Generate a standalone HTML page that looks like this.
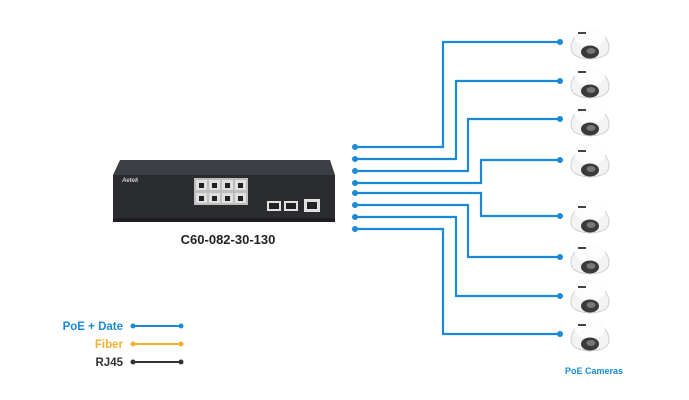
<!DOCTYPE html>
<html><head><meta charset="utf-8"><style>
html,body{margin:0;padding:0;background:#fff;}
svg{display:block;}
</style></head><body>
<svg width="689" height="400" viewBox="0 0 689 400" xmlns="http://www.w3.org/2000/svg" font-family="Liberation Sans, sans-serif">
<defs>
<g id="cam">
<path d="M-19,8 A19,18 0 0 1 19,8 Q19,18 0,19 Q-19,18 -19,8 Z" fill="#f3f3f3" stroke="#cfcfcf" stroke-width="1"/>
<ellipse cx="0" cy="-3" rx="15" ry="10" fill="#fdfdfd"/>
<rect x="-12" y="-8" width="8" height="2" fill="#444"/>
<ellipse cx="0" cy="12" rx="9" ry="6.5" fill="#3a3a3a"/>
<ellipse cx="1" cy="11" rx="4.5" ry="3" fill="#777"/>
</g>
</defs>
<g stroke="#1a8ad8" stroke-width="2.2" fill="none">
<polyline points="355,147 443,147 443,42 560,42"/>
<polyline points="355,159 456,159 456,81 560,81"/>
<polyline points="355,171 468,171 468,119 560,119"/>
<polyline points="355,183 481,183 481,160 560,160"/>
<polyline points="355,193 481,193 481,216 560,216"/>
<polyline points="355,205 468,205 468,257 560,257"/>
<polyline points="355,217 456,217 456,296 560,296"/>
<polyline points="355,229 443,229 443,334 560,334"/>
</g>
<g fill="#1a8ad8">
<circle cx="355" cy="147" r="3"/><circle cx="355" cy="159" r="3"/><circle cx="355" cy="171" r="3"/><circle cx="355" cy="183" r="3"/>
<circle cx="355" cy="193" r="3"/><circle cx="355" cy="205" r="3"/><circle cx="355" cy="217" r="3"/><circle cx="355" cy="229" r="3"/>
<circle cx="560" cy="42" r="3"/><circle cx="560" cy="81" r="3"/><circle cx="560" cy="119" r="3"/><circle cx="560" cy="160" r="3"/>
<circle cx="560" cy="216" r="3"/><circle cx="560" cy="257" r="3"/><circle cx="560" cy="296" r="3"/><circle cx="560" cy="334" r="3"/>
</g>
<use href="#cam" x="590" y="40"/>
<use href="#cam" x="590" y="79"/>
<use href="#cam" x="590" y="117"/>
<use href="#cam" x="590" y="158"/>
<use href="#cam" x="590" y="214"/>
<use href="#cam" x="590" y="255"/>
<use href="#cam" x="590" y="294"/>
<use href="#cam" x="590" y="332"/>
<text x="594" y="374" font-size="9" font-weight="bold" fill="#1a8ad8" text-anchor="middle">PoE Cameras</text>
<!-- switch -->
<polygon points="120,160 330,160 335,175 113,175" fill="#3c3f44"/>
<rect x="113" y="175" width="222" height="45" fill="#2a2c30"/>
<rect x="113" y="218" width="222" height="4" fill="#1c1d20"/>
<text x="122" y="182" font-size="6" font-style="italic" font-weight="bold" fill="#ccc">Aetek</text>
<rect x="194" y="178" width="54" height="27" fill="#bdbdbd"/>
<g fill="#e0e0e0">
<rect x="196" y="180" width="11" height="10"/><rect x="209" y="180" width="11" height="10"/><rect x="222" y="180" width="11" height="10"/><rect x="235" y="180" width="11" height="10"/>
<rect x="196" y="193" width="11" height="10"/><rect x="209" y="193" width="11" height="10"/><rect x="222" y="193" width="11" height="10"/><rect x="235" y="193" width="11" height="10"/>
<rect x="267" y="201" width="14" height="10"/><rect x="284" y="201" width="14" height="10"/><rect x="304" y="199" width="16" height="13"/>
</g>
<g fill="#222">
<rect x="199" y="183" width="5" height="5"/><rect x="212" y="183" width="5" height="5"/><rect x="225" y="183" width="5" height="5"/><rect x="238" y="183" width="5" height="5"/>
<rect x="199" y="196" width="5" height="5"/><rect x="212" y="196" width="5" height="5"/><rect x="225" y="196" width="5" height="5"/><rect x="238" y="196" width="5" height="5"/>
<rect x="269" y="203" width="10" height="6"/><rect x="286" y="203" width="10" height="6"/><rect x="307" y="202" width="10" height="7"/>
</g>
<text x="228" y="244" font-size="13" font-weight="bold" fill="#222" text-anchor="middle">C60-082-30-130</text>
<!-- legend -->
<text x="123" y="330" font-size="11.5" font-weight="bold" fill="#1a8ad8" text-anchor="end">PoE + Date</text>
<text x="123" y="348" font-size="11.5" font-weight="bold" fill="#f3b030" text-anchor="end">Fiber</text>
<text x="123" y="366" font-size="11.5" font-weight="bold" fill="#333" text-anchor="end">RJ45</text>
<g stroke-width="2">
<line x1="133" y1="326" x2="181" y2="326" stroke="#1a8ad8"/>
<line x1="133" y1="344" x2="181" y2="344" stroke="#f3b030"/>
<line x1="133" y1="362" x2="181" y2="362" stroke="#333"/>
</g>
<circle cx="133" cy="326" r="2.5" fill="#1a8ad8"/><circle cx="181" cy="326" r="2.5" fill="#1a8ad8"/>
<circle cx="133" cy="344" r="2.5" fill="#f3b030"/><circle cx="181" cy="344" r="2.5" fill="#f3b030"/>
<circle cx="133" cy="362" r="2.5" fill="#333"/><circle cx="181" cy="362" r="2.5" fill="#333"/>
</svg>
</body></html>
